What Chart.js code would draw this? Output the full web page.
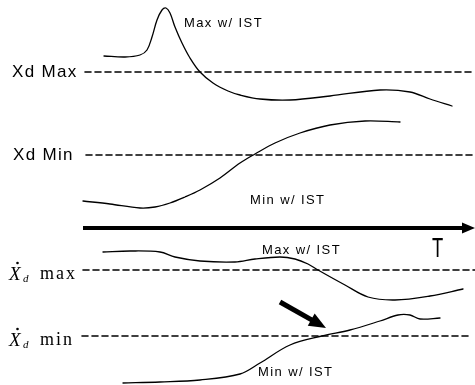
<!DOCTYPE html>
<html>
<head>
<meta charset="utf-8">
<script src="https://cdn.jsdelivr.net/npm/chart.js@4.4.1/dist/chart.umd.min.js"></script>
<style>
html,body{margin:0;padding:0;background:#fff;}
#wrap{width:475px;height:385px;position:relative;}
</style>
</head>
<body>
<div id="wrap"><canvas id="c" width="475" height="385"></canvas></div>
<script>
// ---- data (time axis t, signal axis s; s grows downward on the picture) ----
const tMaxTop = [104,125,140,147,152,157,162,166,170,175,182,190,200,213,228,240,260,290,330,380,410,430,452];
const sMaxTop = [56,57,55,50,37,20,10,8,13,27,43,58,72,83,91,95,99,100,96,90,92,99,106];

const tMinTop = [83,110,140,155,170,185,200,220,240,255,275,300,330,365,400];
const sMinTop = [201,204,208,207,203,197,190,178,163,154,143,133,125,121,122];

const tMaxBot = [103,130,160,175,200,235,255,280,295,308,318,345,368,395,430,463];
const sMaxBot = [252,251,252,257,261,262,259,257,259,264,270,285,297,300,296,289];

const tMinBot = [123,160,200,240,260,290,322,350,380,398,410,420,440];
const sMinBot = [383,382,380,374,363,345,336,330,321,315,315,319,318];

// reference (limit) levels
const refLevels = [72,155,270,336];
const refStart  = [85,86,83,82];
const refEnd    = [475,475,475,470];

// time axis arrow and the small pointer arrow
const axisT = [83,475];
const axisS = [228,228];
const pointerT = [280,326];
const pointerS = [302,328];

const pts = (t,s)=>t.map((v,i)=>({x:v,y:s[i]}));

const curveStyle = {borderColor:'#000',borderWidth:1.3,pointRadius:0,fill:false,tension:0.35};
const datasets = [
  {...curveStyle, data:pts(tMaxTop,sMaxTop)},
  {...curveStyle, data:pts(tMinTop,sMinTop)},
  {...curveStyle, data:pts(tMaxBot,sMaxBot)},
  {...curveStyle, data:pts(tMinBot,sMinBot)},
];
refLevels.forEach((lv,i)=>{
  datasets.push({borderColor:'#000',borderWidth:1.6,borderDash:[6,4],pointRadius:0,tension:0,
    data:[{x:refStart[i],y:lv},{x:refEnd[i],y:lv}]});
});

function spaced(ctx, text, x, y, ls){
  let cx = x;
  for(const ch of text){ ctx.fillText(ch, cx, y); cx += ctx.measureText(ch).width + ls; }
}
function arrow(ctx, x1,y1,x2,y2, w, headLen, headHalf){
  const a = Math.atan2(y2-y1,x2-x1);
  const bx = x2 - headLen*Math.cos(a), by = y2 - headLen*Math.sin(a);
  ctx.save();
  ctx.strokeStyle='#000'; ctx.fillStyle='#000'; ctx.lineWidth=w; ctx.lineCap='butt';
  ctx.beginPath(); ctx.moveTo(x1,y1); ctx.lineTo(bx+Math.cos(a),by+Math.sin(a)); ctx.stroke();
  ctx.beginPath(); ctx.moveTo(x2,y2);
  ctx.lineTo(bx - headHalf*Math.sin(a), by + headHalf*Math.cos(a));
  ctx.lineTo(bx + headHalf*Math.sin(a), by - headHalf*Math.cos(a));
  ctx.closePath(); ctx.fill();
  ctx.restore();
}

const annot = {
  id:'annot',
  afterDatasetsDraw(chart){
    const {ctx, scales:{x,y}} = chart;
    const X = v=>x.getPixelForValue(v), Y = v=>y.getPixelForValue(v);
    ctx.save();
    ctx.fillStyle='#000';
    ctx.textBaseline='middle';
    // small curve labels
    ctx.font='13px "Liberation Sans", Arial, sans-serif';
    spaced(ctx,'Max w/ IST',X(184),Y(23),1.4);
    spaced(ctx,'Min w/ IST',X(250),Y(200),1.4);
    spaced(ctx,'Max w/ IST',X(262),Y(250),1.4);
    spaced(ctx,'Min w/ IST',X(258),Y(372),1.4);
    // level labels
    ctx.font='17px "Liberation Sans", Arial, sans-serif';
    spaced(ctx,'Xd Max',X(12),Y(72),1.3);
    spaced(ctx,'Xd Min',X(13),Y(155),1.3);
    // X-dot labels
    ctx.textBaseline='alphabetic';
    const xdot = (base, word)=>{
      ctx.font='italic 19px "Liberation Serif", "Times New Roman", serif';
      ctx.fillText('X',X(9),Y(base));
      ctx.beginPath(); ctx.arc(X(17.5),Y(base-17),1.3,0,Math.PI*2); ctx.fill();
      ctx.font='italic 11px "Liberation Serif", "Times New Roman", serif';
      ctx.fillText('d',X(23),Y(base+2));
      ctx.font='18px "Liberation Serif", "Times New Roman", serif';
      spaced(ctx,word,X(40),Y(base-1),2);
    };
    xdot(280,'max');
    xdot(346,'min');
    // T
    ctx.save();
    ctx.font='27px "Liberation Sans", Arial, sans-serif';
    ctx.translate(X(432),Y(257));
    ctx.scale(0.68,1);
    ctx.fillText('T',0,0);
    ctx.restore();
    // arrows
    arrow(ctx,X(axisT[0]),Y(axisS[0]),X(axisT[1]),Y(axisS[1]),4,13,5.5);
    arrow(ctx,X(pointerT[0]),Y(pointerS[0]),X(pointerT[1]),Y(pointerS[1]),5,17,7);
    ctx.restore();
  }
};

new Chart(document.getElementById('c'),{
  type:'line',
  data:{datasets},
  options:{
    responsive:false,
    animation:false,
    layout:{padding:0},
    plugins:{legend:{display:false},tooltip:{enabled:false}},
    elements:{line:{borderCapStyle:'round'}},
    scales:{
      x:{type:'linear',min:0,max:475,display:false},
      y:{type:'linear',min:0,max:385,reverse:true,display:false}
    }
  },
  plugins:[annot]
});
</script>
</body>
</html>
